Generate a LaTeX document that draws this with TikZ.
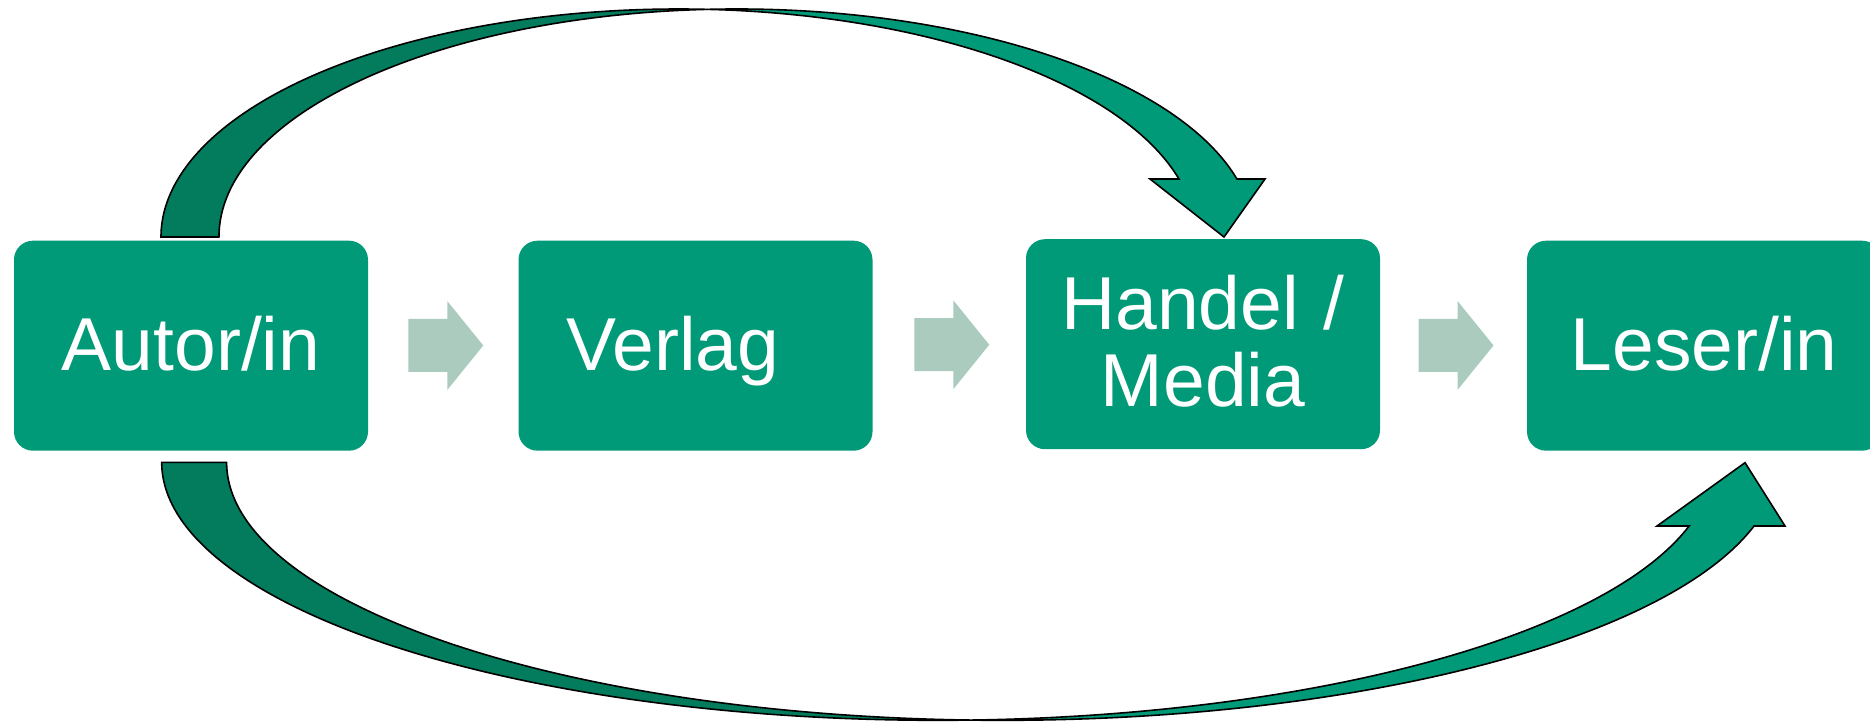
\documentclass[tikz,border=0pt]{standalone}
\usepackage{fontspec}
\setmainfont{Liberation Sans}
\usetikzlibrary{calc}
\definecolor{boxgreen}{RGB}{0,154,120}
\definecolor{darkgreen}{RGB}{3,123,93}
\definecolor{arrowgray}{RGB}{170,203,190}
\tikzset{
  stage/.style={fill=boxgreen, rounded corners=19pt, minimum width=354pt, minimum height=210pt,
    inner xsep=37pt, inner ysep=0pt, text width=280pt, align=center, text=white,
    font=\fontsize{75}{77}\selectfont, text height=49pt, text depth=0pt},
  bandlight/.style={fill=boxgreen, draw=black, line width=1.6pt, line join=miter},
  banddark/.style={fill=darkgreen, draw=black, line width=1.6pt, line join=miter},
  stagearrow/.pic={\fill[arrowgray] (-37.5,26.5) -- (1.5,26.5) -- (1.5,44.5) -- (37.5,0)
      -- (1.5,-44.5) -- (1.5,-26.5) -- (-37.5,-26.5) -- cycle;}
}
\begin{document}
\begin{tikzpicture}[x=1pt,y=1pt]
\useasboundingbox (0,0) rectangle (1870,721);
% stages
\node[stage] (b1) at (191,375.3) {Autor/in};
\node[stage, inner xsep=48pt, text width=258pt, align=left] (b2) at (695.5,375.3) {Verlag};
\node[stage, text height=55pt, text depth=85pt, inner xsep=17pt, text width=320pt] (b3) at (1203,376.8) {Handel /\\Media};
\node[stage] (b4) at (1704,375.3) {Leser/in};
% flow arrows
\coordinate (g1) at ($(b1.east)!0.5!(b2.west)+(2.5,0.2)$);
\coordinate (g2) at ($(b2.east)!0.5!(b3.west)+(2.5,0.2)$);
\coordinate (g3) at ($(b3.east)!0.5!(b4.west)+(2.5,-0.5)$);
\pic at (g1) {stagearrow};
\pic at (g2) {stagearrow};
\pic at (g3) {stagearrow};
% top curved arrow
\path[banddark] (161,484) arc[start angle=180, end angle=86.79, x radius=517.5, y radius=228]
  arc[start angle=93.21, end angle=180, x radius=517.5, y radius=228] -- cycle;
\path[bandlight] (707.5,711.64) arc[start angle=93.21, end angle=14.74, x radius=517.5, y radius=228]
  -- (1265,542) -- (1224,484) -- (1150,542) -- (1178.97,542)
  arc[start angle=14.74, end angle=86.79, x radius=517.5, y radius=228] -- cycle;
% bottom curved arrow
\path[banddark] (161.7,258.7) arc[start angle=180, end angle=272.40, x radius=775.7, y radius=258]
  arc[start angle=267.60, end angle=180, x radius=775.7, y radius=258] -- cycle;
\path[bandlight] (969.9,0.93) arc[start angle=267.60, end angle=345.71, x radius=775.7, y radius=258]
  -- (1785,195) -- (1745,258.3) -- (1657,195) -- (1689.1,195)
  arc[start angle=345.71, end angle=272.40, x radius=775.7, y radius=258] -- cycle;
\end{tikzpicture}
\end{document}
